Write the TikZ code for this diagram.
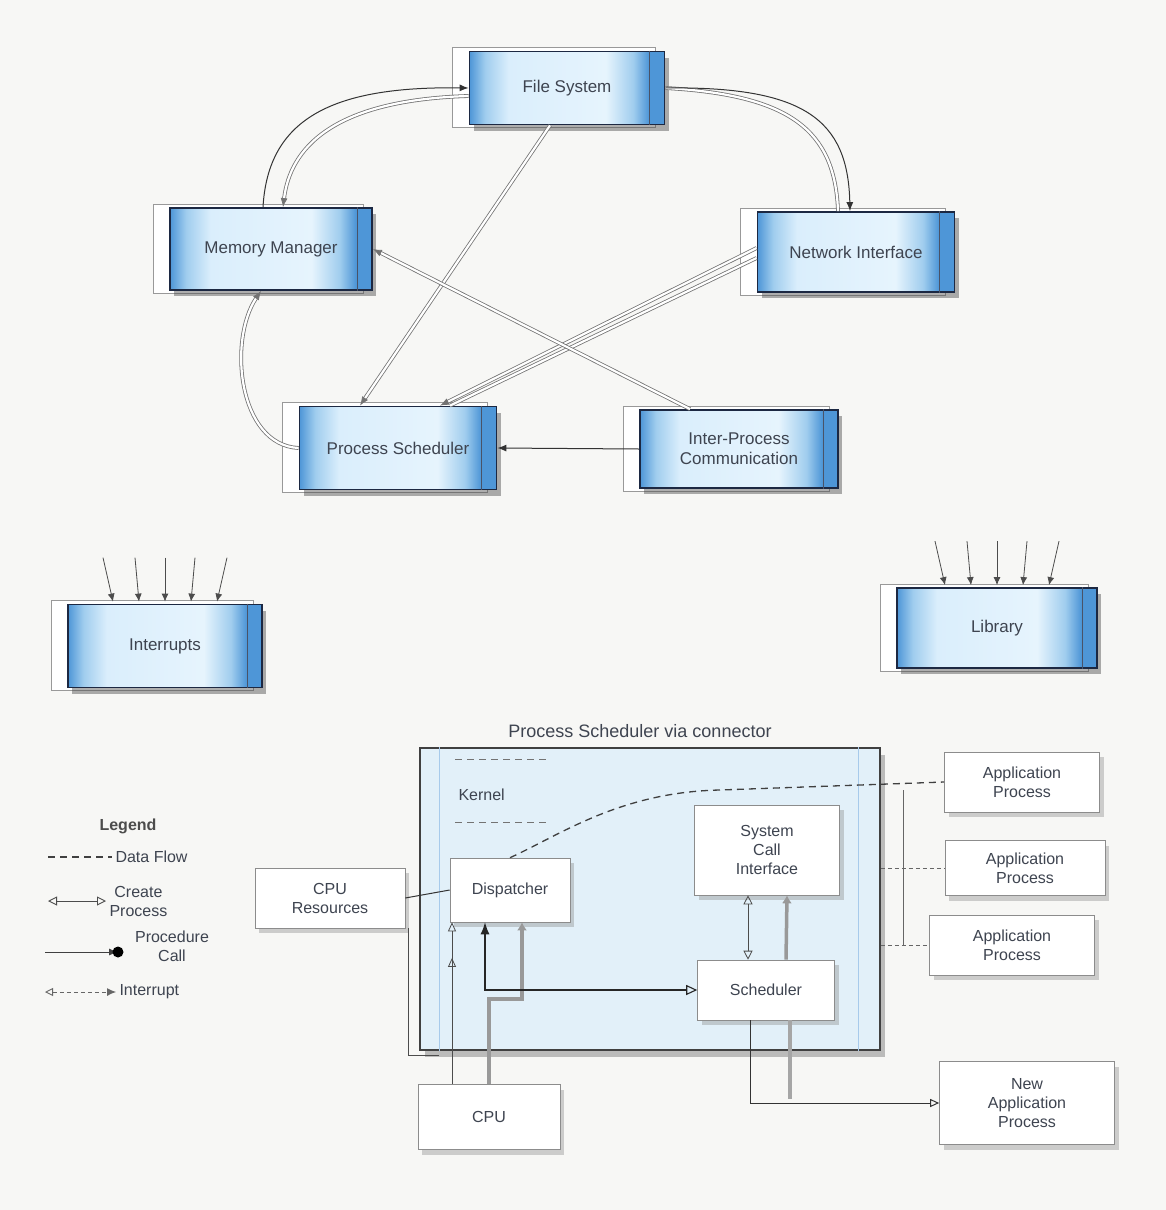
\documentclass[tikz,border=0pt]{standalone}
\usepackage{fontspec}
\setmainfont{Liberation Sans}
\usetikzlibrary{shadows,arrows.meta,decorations.markings,backgrounds}

\definecolor{paper}{RGB}{247,247,245}
\definecolor{blueedge}{RGB}{78,150,215}
\definecolor{bluemid}{RGB}{160,205,238}
\definecolor{bluepale}{RGB}{218,238,252}
\definecolor{bluelight}{RGB}{230,244,253}
\definecolor{frameline}{RGB}{28,40,66}
\definecolor{inkgray}{RGB}{62,68,80}
\definecolor{cont}{RGB}{226,240,249}

% module fill: blue edges, pale centre (the node spans 25bp..75bp)
\pgfdeclarehorizontalshading{modshade}{100bp}{%
  color(0bp)=(blueedge); color(25bp)=(blueedge); color(29bp)=(bluemid);
  color(35bp)=(bluepale); color(60bp)=(bluelight); color(67bp)=(bluemid);
  color(71bp)=(blueedge); color(100bp)=(blueedge)}

\begin{document}
\begin{tikzpicture}[x=1pt,y=-1pt,
  txt/.style={font=\fontsize{16}{19}\selectfont, text=inkgray},
  blk/.style={rectangle, draw=frameline, line width=1.8pt, shading=modshade,
    drop shadow={shadow xshift=4pt, shadow yshift=-6pt, fill=black!70, opacity=.45},
    txt, font=\fontsize{17}{20}\selectfont, align=center},
  wbox/.style={rectangle, draw=black!45, line width=.6pt, fill=white,
    drop shadow={shadow xshift=4pt, shadow yshift=-5pt, fill=black!45, opacity=.4},
    txt, align=center},
  ghost/.style={draw=black!40, line width=.5pt},
  link/.style={draw=black!80, line width=1pt},
  dbl/.style={draw=black!55, line width=.8pt, double=white, double distance=2.2pt},
  tip/.style={-{Latex[length=9pt,width=7pt]}},
  rtip/.style={{Latex[length=9pt,width=7pt]}-},
  otip/.style={-{Triangle[open,length=9pt,width=8pt]}},
  grayarrow/.style={draw=black!40, line width=3.5pt, -{Latex[length=8pt,width=10pt]}},
  fan/.style={draw=black!70, line width=.8pt, -{Latex[length=8pt,width=7pt]}},
  dashed line/.style={draw=black!75, line width=1.3pt, dash pattern=on 7pt off 5pt},
]
\useasboundingbox (0,0) rectangle (1166,1210);

% ---------- upper module graph ----------
\node[blk, minimum width=195pt, minimum height=73pt] (fs) at (567,88) {File System};
\node[blk, minimum width=202pt, minimum height=82pt] (mm) at (271,249) {Memory Manager};
\node[blk, minimum width=197pt, minimum height=80pt] (ni) at (856,252) {Network Interface};
\node[blk, minimum width=197pt, minimum height=83pt] (ps) at (398,448) {Process Scheduler};
\node[blk, minimum width=198pt, minimum height=78pt] (ipc) at (739,449) {Inter-Process\\Communication};
\node[blk, minimum width=194pt, minimum height=83pt] (intr) at (165,646) {Interrupts};
\node[blk, minimum width=200pt, minimum height=80pt] (lib) at (997,628) {Library};

% paper, and the thin outer frames of the module boxes
\begin{scope}[on background layer]
  \fill[paper] (0,0) rectangle (1166,1210);
  \foreach \n in {fs,mm,ni,ps,ipc,intr,lib}
    \draw[ghost, fill=white] ([xshift=-16pt,yshift=3pt]\n.north west) rectangle ([xshift=-10pt,yshift=-2pt]\n.south east);
\end{scope}
% component stripe near the right edge of each module box
\foreach \n in {fs,mm,ni,ps,ipc,intr,lib}
  \draw[frameline!80, line width=.8pt] ([xshift=-16pt]\n.north east) -- ([xshift=-16pt]\n.south east);

% connectors between modules
\draw[dbl, rtip] ([xshift=12pt]mm.north) .. controls (290,150) and (330,100) .. ([yshift=-8pt]fs.west);
\draw[link, tip] ([xshift=-8pt]mm.north) .. controls (268,120) and (330,86) .. (fs.west);
\draw[dbl] (fs.east) .. controls (790,95) and (835,130) .. ([xshift=-18pt]ni.north);
\draw[link, tip] (fs.east) .. controls (805,86) and (848,120) .. ([xshift=-6pt]ni.north);
\draw[dbl, tip] ([xshift=-17pt]fs.south) -- ([xshift=-38pt]ps.north);
\draw[dbl, tip] ([yshift=4pt]ni.west) -- ([xshift=42pt]ps.north);
\draw[dbl] ([yshift=-6pt]ni.west) -- ([xshift=52pt]ps.north);
\draw[dbl, tip] ([xshift=-49pt]ipc.north) -- (mm.east);
\draw[dbl, rtip] ([xshift=-10pt]mm.south) .. controls (228,340) and (238,445) .. (ps.west);
\draw[link, tip] (ipc.west) -- (ps.east);

% fans of incoming arrows on the free-standing modules
\foreach \n in {intr,lib}
  \foreach \dx/\sx in {-52/-62,-26/-30,0/0,26/30,52/62}
    \draw[fan] ([xshift=\sx pt, yshift=46pt]\n.north) -- ([xshift=\dx pt, yshift=2pt]\n.north);

% ---------- process scheduler connector view ----------
\node[txt, font=\fontsize{18}{21}\selectfont] (title) at (640,731) {Process Scheduler via connector};
\node[rectangle, draw=black!75, line width=1.6pt, fill=cont, minimum width=460pt, minimum height=302pt,
      drop shadow={shadow xshift=5pt, shadow yshift=-7pt, fill=black!55, opacity=.45}] (box) at (650,899) {};
\draw[blueedge!50, line width=1.2pt] ([xshift=20pt]box.north west) -- ([xshift=20pt]box.south west);
\draw[blueedge!50, line width=1.2pt] ([xshift=-22pt]box.north east) -- ([xshift=-22pt]box.south east);

\node[txt, anchor=west] (kern) at (455,795) {Kernel};
\draw[dashed line, black!55] ([yshift=26pt]kern.north west) -- ++(95,0);
\draw[dashed line, black!55] ([yshift=-18pt]kern.south west) -- ++(95,0);

\node[wbox, minimum width=120pt, minimum height=64pt] (disp) at (510,890) {Dispatcher};
\node[wbox, minimum width=145pt, minimum height=90pt] (sys) at (767,850) {System\\Call\\Interface};
\node[wbox, minimum width=137pt, minimum height=60pt] (sch) at (766,990) {Scheduler};
\node[wbox, minimum width=150pt, minimum height=60pt] (res) at (330,898) {CPU\\Resources};
\node[wbox, minimum width=142pt, minimum height=65pt] (cpu) at (489,1117) {CPU};
\node[wbox, minimum width=155pt, minimum height=60pt] (ap1) at (1022,782) {Application\\Process};
\node[wbox, minimum width=160pt, minimum height=55pt] (ap2) at (1025,868) {Application\\Process};
\node[wbox, minimum width=165pt, minimum height=60pt] (ap3) at (1012,945) {Application\\Process};
\node[wbox, minimum width=175pt, minimum height=83pt] (nap) at (1027,1103) {New\\Application\\Process};

% dispatcher to application processes
\draw[dashed line] (disp.north) .. controls (560,835) and (620,792) .. (720,790) -- (ap1.west);
\coordinate (bus) at (903,790);
\draw[black!60, line width=.8pt] (bus) -- (bus |- ap3.west);
\draw[black!60, line width=.8pt, dash pattern=on 4pt off 3pt] (box.east |- ap2.west) -- (ap2.west);
\draw[black!60, line width=.8pt, dash pattern=on 4pt off 3pt] (box.east |- ap3.west) -- (ap3.west);

% resources and CPU
\draw[link] (res.east) -- (disp.west);
\draw[black!70, line width=.8pt] ([xshift=3pt]res.south east) |- ([xshift=20pt,yshift=-5pt]box.south west);
\draw[black!70, line width=.8pt, otip,
      postaction={decorate, decoration={markings, mark=at position .78 with {\arrow{Triangle[open,length=9pt,width=8pt]}}}}]
  ([xshift=-37pt]cpu.north) -- ([xshift=-58pt]disp.south);
\draw[draw=black!40, line width=3.5pt] (cpu.north) -- ++(0,-85) -| ([xshift=12pt,yshift=-8pt]disp.south);
\draw[grayarrow] ([xshift=12pt,yshift=-40pt]disp.south) -- ([xshift=12pt]disp.south);

% dispatcher and scheduler
\draw[black!85, line width=1.1pt, {Latex[length=12pt,width=9pt]}-{Triangle[open,length=11pt,width=10pt]}]
  ([xshift=-25pt]disp.south) |- (sch.west);
\draw[black!70, line width=.8pt, {Triangle[open,length=9pt,width=9pt]}-{Triangle[open,length=9pt,width=9pt]}]
  ([xshift=-19pt]sys.south) -- ([xshift=-18pt]sch.north);
\draw[grayarrow] ([xshift=20pt]sch.north) -- ([xshift=20pt]sys.south);

% scheduler to the new application process
\draw[draw=black!35, line width=3.5pt] ([xshift=24pt]sch.south) -- ([xshift=24pt,yshift=4pt]sch.south |- nap.west);
\draw[black!80, line width=1pt, otip] ([xshift=-16pt]sch.south) |- (nap.west);

% ---------- legend ----------
\node[txt, font=\bfseries\fontsize{16}{19}\selectfont, text=black!70] (leg) at (128,826) {Legend};
\coordinate (la1) at (48,857);  \coordinate (lb1) at (112,857);
\coordinate (la2) at (48,901);  \coordinate (lb2) at (106,901);
\coordinate (la3) at (45,952);  \coordinate (lb3) at (118,952);
\coordinate (la4) at (45,992);  \coordinate (lb4) at (116,992);
\draw[dashed line] (la1) -- (lb1);
\node[txt, anchor=west] (lt1) at (lb1) {Data Flow};
\draw[black!70, line width=.9pt, {Triangle[open,length=9pt,width=9pt]}-{Triangle[open,length=9pt,width=9pt]}] (la2) -- (lb2);
\node[txt, anchor=west, align=center] (lt2) at (lb2) {Create\\Process};
\draw[black!75, line width=.9pt, -{Latex[length=9pt,width=7pt]}] (la3) -- (lb3);
\fill[black] (lb3) circle (5.5pt);
\node[txt, align=center] (lt3) at (172,946) {Procedure\\Call};
\draw[black!60, line width=.9pt, dash pattern=on 4pt off 3pt, {Triangle[open,length=8pt,width=8pt]}-{Latex[length=9pt,width=8pt]}] (la4) -- (lb4);
\node[txt, anchor=west] (lt4) at (lb4) {Interrupt};
\end{tikzpicture}
\end{document}
